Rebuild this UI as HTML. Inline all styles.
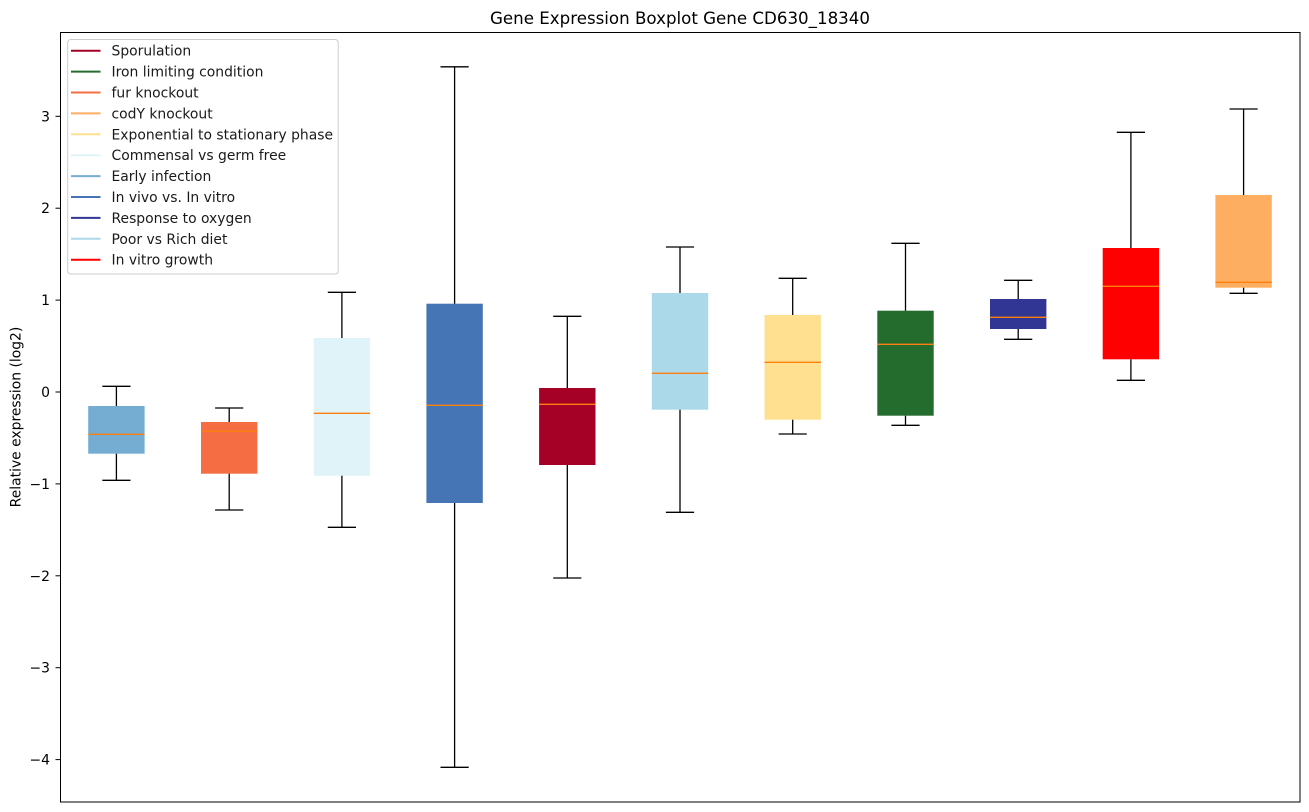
<!DOCTYPE html>
<html>
<head>
<meta charset="utf-8">
<style>
html,body{margin:0;padding:0;background:#fff;}
svg{display:block;font-family:"DejaVu Sans","Liberation Sans",sans-serif;}
</style>
</head>
<body>
<svg width="1309" height="812" viewBox="0 0 1309 812" xmlns="http://www.w3.org/2000/svg">
<rect x="0" y="0" width="1309" height="812" fill="#fff"/>
<!-- Title -->
<text x="680" y="24" font-size="16.67" text-anchor="middle" fill="#000">Gene Expression Boxplot Gene CD630_18340</text>

<!-- Boxes -->
<g stroke="#000" stroke-width="1.3" fill="none">
<!-- 1 Early infection -->
<rect x="88.2" y="406" width="56.4" height="47.7" fill="#74add1" stroke="none"/>
<line x1="116.4" y1="406" x2="116.4" y2="386.3"/><line x1="116.4" y1="453.7" x2="116.4" y2="480.3"/>
<line x1="102.3" y1="386.3" x2="130.5" y2="386.3"/><line x1="102.3" y1="480.3" x2="130.5" y2="480.3"/>
<line x1="88.2" y1="434.3" x2="144.6" y2="434.3" stroke="#ff7f0e"/>
<!-- 2 fur knockout -->
<rect x="201" y="422" width="56.4" height="51.7" fill="#f46d43" stroke="none"/>
<line x1="229.2" y1="422" x2="229.2" y2="408"/><line x1="229.2" y1="473.7" x2="229.2" y2="510"/>
<line x1="215.1" y1="408" x2="243.3" y2="408"/><line x1="215.1" y1="510" x2="243.3" y2="510"/>
<line x1="201" y1="431.3" x2="257.4" y2="431.3" stroke="#ff7f0e"/>
<!-- 3 Commensal -->
<rect x="313.7" y="338" width="56.4" height="137.7" fill="#e0f3f8" stroke="none"/>
<line x1="341.9" y1="338" x2="341.9" y2="292.3"/><line x1="341.9" y1="475.7" x2="341.9" y2="527.3"/>
<line x1="327.8" y1="292.3" x2="356" y2="292.3"/><line x1="327.8" y1="527.3" x2="356" y2="527.3"/>
<line x1="313.7" y1="413.3" x2="370.1" y2="413.3" stroke="#ff7f0e"/>
<!-- 4 In vivo -->
<rect x="426.4" y="303.7" width="56.4" height="199.3" fill="#4575b4" stroke="none"/>
<line x1="454.6" y1="303.7" x2="454.6" y2="66.8"/><line x1="454.6" y1="503" x2="454.6" y2="767.3"/>
<line x1="440.5" y1="66.8" x2="468.7" y2="66.8"/><line x1="440.5" y1="767.3" x2="468.7" y2="767.3"/>
<line x1="426.4" y1="405.3" x2="482.8" y2="405.3" stroke="#ff7f0e"/>
<!-- 5 Sporulation -->
<rect x="539.1" y="388" width="56.4" height="77" fill="#a50026" stroke="none"/>
<line x1="567.3" y1="388" x2="567.3" y2="316.3"/><line x1="567.3" y1="465" x2="567.3" y2="578"/>
<line x1="553.2" y1="316.3" x2="581.4" y2="316.3"/><line x1="553.2" y1="578" x2="581.4" y2="578"/>
<line x1="539.1" y1="404.3" x2="595.5" y2="404.3" stroke="#ff7f0e"/>
<!-- 6 Poor vs Rich -->
<rect x="651.8" y="293" width="56.4" height="116.7" fill="#abd9e9" stroke="none"/>
<line x1="680" y1="293" x2="680" y2="247"/><line x1="680" y1="409.7" x2="680" y2="512.3"/>
<line x1="665.9" y1="247" x2="694.1" y2="247"/><line x1="665.9" y1="512.3" x2="694.1" y2="512.3"/>
<line x1="651.8" y1="373.3" x2="708.2" y2="373.3" stroke="#ff7f0e"/>
<!-- 7 Exponential -->
<rect x="764.5" y="315" width="56.4" height="104.7" fill="#fee090" stroke="none"/>
<line x1="792.7" y1="315" x2="792.7" y2="278.3"/><line x1="792.7" y1="419.7" x2="792.7" y2="434"/>
<line x1="778.6" y1="278.3" x2="806.8" y2="278.3"/><line x1="778.6" y1="434" x2="806.8" y2="434"/>
<line x1="764.5" y1="362.3" x2="820.9" y2="362.3" stroke="#ff7f0e"/>
<!-- 8 Iron -->
<rect x="877.3" y="310.7" width="56.4" height="105" fill="#246c2e" stroke="none"/>
<line x1="905.5" y1="310.7" x2="905.5" y2="243.3"/><line x1="905.5" y1="415.7" x2="905.5" y2="425.3"/>
<line x1="891.4" y1="243.3" x2="919.6" y2="243.3"/><line x1="891.4" y1="425.3" x2="919.6" y2="425.3"/>
<line x1="877.3" y1="344.3" x2="933.7" y2="344.3" stroke="#ff7f0e"/>
<!-- 9 Oxygen -->
<rect x="990" y="299" width="56.4" height="30" fill="#313695" stroke="none"/>
<line x1="1018.2" y1="299" x2="1018.2" y2="280.3"/><line x1="1018.2" y1="329" x2="1018.2" y2="339.3"/>
<line x1="1004.1" y1="280.3" x2="1032.3" y2="280.3"/><line x1="1004.1" y1="339.3" x2="1032.3" y2="339.3"/>
<line x1="990" y1="317.3" x2="1046.4" y2="317.3" stroke="#ff7f0e"/>
<!-- 10 In vitro growth -->
<rect x="1102.7" y="248" width="56.4" height="111.3" fill="#ff0000" stroke="none"/>
<line x1="1130.9" y1="248" x2="1130.9" y2="132.3"/><line x1="1130.9" y1="359.3" x2="1130.9" y2="380.3"/>
<line x1="1116.8" y1="132.3" x2="1145" y2="132.3"/><line x1="1116.8" y1="380.3" x2="1145" y2="380.3"/>
<line x1="1102.7" y1="286.3" x2="1159.1" y2="286.3" stroke="#ff7f0e"/>
<!-- 11 codY -->
<rect x="1215.4" y="195" width="56.4" height="92.7" fill="#fdae61" stroke="none"/>
<line x1="1243.6" y1="195" x2="1243.6" y2="109"/><line x1="1243.6" y1="287.7" x2="1243.6" y2="293.3"/>
<line x1="1229.5" y1="109" x2="1257.7" y2="109"/><line x1="1229.5" y1="293.3" x2="1257.7" y2="293.3"/>
<line x1="1215.4" y1="282.3" x2="1271.8" y2="282.3" stroke="#ff7f0e"/>
</g>

<!-- Axes frame -->
<rect x="60.5" y="32.5" width="1239.5" height="769.5" fill="none" stroke="#000" stroke-width="1"/>

<!-- Y ticks -->
<g stroke="#000" stroke-width="1">
<line x1="55.5" y1="116.3" x2="60.5" y2="116.3"/>
<line x1="55.5" y1="208.2" x2="60.5" y2="208.2"/>
<line x1="55.5" y1="300.1" x2="60.5" y2="300.1"/>
<line x1="55.5" y1="392" x2="60.5" y2="392"/>
<line x1="55.5" y1="483.9" x2="60.5" y2="483.9"/>
<line x1="55.5" y1="575.8" x2="60.5" y2="575.8"/>
<line x1="55.5" y1="667.7" x2="60.5" y2="667.7"/>
<line x1="55.5" y1="759.6" x2="60.5" y2="759.6"/>
</g>
<g font-size="13.9" fill="#000" text-anchor="end">
<text x="50" y="121.3">3</text>
<text x="50" y="213.2">2</text>
<text x="50" y="305.1">1</text>
<text x="50" y="397">0</text>
<text x="50" y="488.9">−1</text>
<text x="50" y="580.8">−2</text>
<text x="50" y="672.7">−3</text>
<text x="50" y="764.6">−4</text>
</g>
<text transform="translate(20.5,417) rotate(-90)" font-size="13.9" text-anchor="middle" fill="#000">Relative expression (log2)</text>

<!-- Legend -->
<rect x="67.7" y="39.5" width="270.5" height="234.5" rx="3" ry="3" fill="#fff" fill-opacity="0.85" stroke="#cccccc" stroke-width="1"/>
<g stroke-width="2">
<line x1="71" y1="50.7" x2="100.5" y2="50.7" stroke="#a50026"/>
<line x1="71" y1="71.6" x2="100.5" y2="71.6" stroke="#246c2e"/>
<line x1="71" y1="92.5" x2="100.5" y2="92.5" stroke="#f46d43"/>
<line x1="71" y1="113.4" x2="100.5" y2="113.4" stroke="#fdae61"/>
<line x1="71" y1="134.3" x2="100.5" y2="134.3" stroke="#fee090"/>
<line x1="71" y1="155.2" x2="100.5" y2="155.2" stroke="#e0f3f8"/>
<line x1="71" y1="176.1" x2="100.5" y2="176.1" stroke="#74add1"/>
<line x1="71" y1="197" x2="100.5" y2="197" stroke="#4575b4"/>
<line x1="71" y1="217.9" x2="100.5" y2="217.9" stroke="#313695"/>
<line x1="71" y1="238.8" x2="100.5" y2="238.8" stroke="#abd9e9"/>
<line x1="71" y1="259.7" x2="100.5" y2="259.7" stroke="#ff0000"/>
</g>
<g font-size="13.9" fill="#1a1a1a">
<text x="111.5" y="55.7">Sporulation</text>
<text x="111.5" y="76.6">Iron limiting condition</text>
<text x="111.5" y="97.5">fur knockout</text>
<text x="111.5" y="118.4">codY knockout</text>
<text x="111.5" y="139.3">Exponential to stationary phase</text>
<text x="111.5" y="160.2">Commensal vs germ free</text>
<text x="111.5" y="181.1">Early infection</text>
<text x="111.5" y="202">In vivo vs. In vitro</text>
<text x="111.5" y="222.9">Response to oxygen</text>
<text x="111.5" y="243.8">Poor vs Rich diet</text>
<text x="111.5" y="264.7">In vitro growth</text>
</g>
</svg>
</body>
</html>
